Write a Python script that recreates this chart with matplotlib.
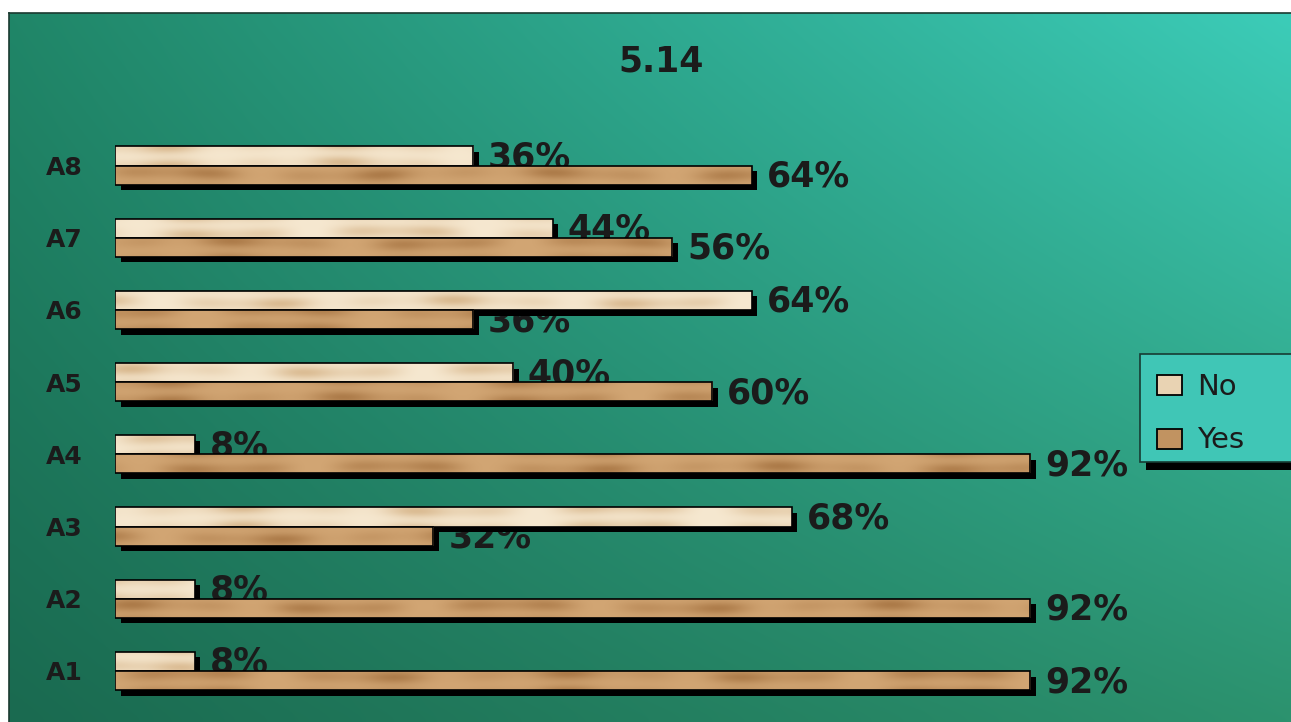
import numpy as np
import matplotlib
matplotlib.use("Agg")
import matplotlib.pyplot as plt
from matplotlib import patheffects as pe
from matplotlib.patches import Rectangle
from matplotlib.lines import Line2D

# ---- data ----
categories = ["A1", "A2", "A3", "A4", "A5", "A6", "A7", "A8"]
no_pct = [8, 8, 68, 8, 40, 64, 44, 36]
yes_pct = [92, 92, 32, 92, 60, 36, 56, 64]
series_names = ["No", "Yes"]
title = "5.14"

# ---- style ----
W, H = 1291, 722
FONT = "DejaVu Sans"
INK = "#1b1b1b"
NO_LIGHT, NO_DARK = np.array([246, 232, 208]), np.array([214, 180, 136])
YES_LIGHT, YES_DARK = np.array([210, 166, 116]), np.array([168, 118, 68])

fig = plt.figure(figsize=(W / 100, H / 100), dpi=100, facecolor="white")


def fx(px):
    return px / W


def fy(py):
    return 1 - py / H


# green-to-teal backdrop
bg = fig.add_axes([fx(9), 0, 1 - fx(9), fy(13)], zorder=0)
ny, nx = 80, 160
u = np.linspace(0, 1, nx)[None, :, None]
v = np.linspace(0, 1, ny)[:, None, None]
tl = np.array([32, 134, 104]) / 255
tr = np.array([60, 204, 184]) / 255
bl = np.array([26, 106, 80]) / 255
br = np.array([44, 146, 110]) / 255
img = (1 - v) * ((1 - u) * tl + u * tr) + v * ((1 - u) * bl + u * br)
bg.imshow(img, aspect="auto", extent=[0, 1, 0, 1], interpolation="bicubic")
bg.set_axis_off()
fig.add_artist(Line2D([fx(9), 1], [fy(13), fy(13)], color="#1a3a30", lw=1.2))
fig.add_artist(Line2D([fx(9), fx(9)], [0, fy(13)], color="#1a3a30", lw=1.2))

# plotting area
ax = fig.add_axes([fx(115), fy(721.5), fx(1110) - fx(115), (721.5 - 115) / H], zorder=1)
ax.patch.set_alpha(0)

y = np.arange(len(categories))
h = 0.265
shadow = [pe.SimplePatchShadow(offset=(4, -4), shadow_rgbFace="black", alpha=1.0), pe.Normal()]


def grain(length, phase):
    """Soft horizontal wood-like smudges for a bar of the given length (in % units)."""
    gx = np.linspace(0, length, max(int(length * 6), 20))[None, :]
    gy = np.linspace(0, 1, 16)[:, None]
    wobble = 0.10 * np.sin(2 * np.pi * (gx / 37.0 + phase))
    band = 0.5 + 0.5 * np.sin(2 * np.pi * (1.0 * gy + wobble + phase))
    patch = 0.5 + 0.5 * np.sin(2 * np.pi * (gx / 19.0 + 1.7 * phase))
    patch2 = 0.5 + 0.5 * np.sin(2 * np.pi * (gx / 8.5 + 0.4 + phase))
    s = (0.35 + 0.65 * band) * (0.6 * patch + 0.4 * patch2)
    return 0.9 * s ** 1.2


def textured_bars(values, centers, light, dark, z, phase):
    bars = ax.barh(centers, values, height=h, color=tuple(light / 255),
                   edgecolor="none", zorder=z)
    for k, (b, val, c) in enumerate(zip(bars, values, centers)):
        b.set_path_effects(shadow)
        t = grain(val, phase + 0.17 * k)[..., None]
        tex = (light + (dark - light) * t) / 255
        im = ax.imshow(tex, extent=[0, val, c - h / 2, c + h / 2], aspect="auto",
                       interpolation="bicubic", zorder=z + 0.1, origin="lower")
        im.set_clip_path(b)
        ax.add_patch(Rectangle((0, c - h / 2), val, h, facecolor="none",
                               edgecolor="black", linewidth=1.2, zorder=z + 0.2))
    return bars


textured_bars(no_pct, y + h / 2, NO_LIGHT, NO_DARK, 3, 0.0)
textured_bars(yes_pct, y - h / 2, YES_LIGHT, YES_DARK, 4, 0.5)

# value labels sit behind the bars
lab_kw = dict(va="baseline", ha="left", fontsize=25, fontweight="bold",
              family=FONT, color=INK, zorder=2)
for yi, nv, yv in zip(y, no_pct, yes_pct):
    ax.text(nv + 1.5, yi + h / 2 - 0.16, f"{nv}%", **lab_kw)
    ax.text(yv + 1.5, yi - h / 2 - 0.16, f"{yv}%", **lab_kw)

ax.set_xlim(0, 100)
ax.set_ylim(-0.7, 7.7)
ax.set_yticks(y, categories)
ax.tick_params(axis="y", length=0, pad=23)
for lab in ax.get_yticklabels():
    lab.set_fontsize(18)
    lab.set_fontweight("bold")
    lab.set_family(FONT)
    lab.set_color(INK)
ax.set_xticks([])
for s in ax.spines.values():
    s.set_visible(False)

# title
fig.text(fx(661), fy(72), title, ha="center", va="baseline", fontsize=25,
         fontweight="bold", family=FONT, color=INK)

# legend box
fig.add_artist(Rectangle((fx(1146), fy(470)), 1 - fx(1146), (470 - 462) / H,
                         transform=fig.transFigure, facecolor="black", edgecolor="none"))
fig.add_artist(Rectangle((fx(1140), fy(462)), 1 - fx(1140) + 0.01, (462 - 354) / H,
                         transform=fig.transFigure, facecolor="#40c6b6",
                         edgecolor="#173b33", linewidth=1.2))
for name, light, dark, top, base in zip(series_names, [NO_LIGHT, YES_LIGHT],
                                        [NO_DARK, YES_DARK], [375, 429], [395, 448]):
    mid = (light * 0.6 + dark * 0.4) / 255
    fig.add_artist(Rectangle((fx(1157), fy(top + 20)), fx(1182) - fx(1157), 20 / H,
                             transform=fig.transFigure, facecolor=tuple(mid),
                             edgecolor="black", linewidth=1.3))
    fig.text(fx(1197), fy(base), name, ha="left", va="baseline", fontsize=21,
             family=FONT, color=INK)

fig.savefig("out.png", dpi=100, facecolor="white")
